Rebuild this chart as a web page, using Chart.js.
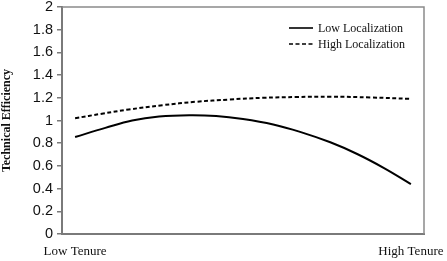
<!DOCTYPE html>
<html>
<head>
<meta charset="utf-8">
<script src="https://cdn.jsdelivr.net/npm/chart.js@4"></script>
<style>
  html, body { margin: 0; padding: 0; background: #fff; }
  #wrap { width: 447px; height: 261px; }
</style>
</head>
<body>
<div id="wrap"><canvas id="canvas"></canvas></div>
<script>
// values; x runs from low tenure (0) to high tenure (1)
var low_x  = [0, 0.09, 0.17, 0.25, 0.34, 0.42, 0.50, 0.59, 0.67, 0.76, 0.84, 0.92, 1.0];
var low_y  = [0.855, 0.935, 1.0, 1.035, 1.047, 1.04, 1.013, 0.965, 0.90, 0.808, 0.705, 0.581, 0.44];
var high_x = [0, 0.08, 0.16, 0.26, 0.36, 0.46, 0.56, 0.66, 0.76, 0.88, 1.0];
var high_y = [1.02, 1.06, 1.097, 1.135, 1.165, 1.185, 1.20, 1.207, 1.21, 1.203, 1.19];
var x_labels = ['Low Tenure', 'High Tenure'];
var series_names = ['Low Localization', 'High Localization'];

function to_points(xs, ys) {
    let pts = [];
    for (let i = 0; i < xs.length; i++) {
        pts.push({x: xs[i], y: ys[i]});
    }
    return pts;
}

// box round the plot and the legend in the top right corner
const frame_plugin = {
    id: 'frame',
    beforeDatasetsDraw(chart) {
        const a = chart.chartArea;
        const c = chart.ctx;
        c.save();
        c.strokeStyle = '#8a8a8a';
        c.lineWidth = 1.5;
        c.beginPath();
        c.moveTo(a.left, a.top);
        c.lineTo(a.right, a.top);
        c.lineTo(a.right, a.bottom);
        c.stroke();
        c.restore();
    },
    afterDraw(chart) {
        const a = chart.chartArea;
        const c = chart.ctx;
        c.save();
        c.font = '12px "Liberation Serif", "Times New Roman", serif';
        c.fillStyle = '#111';
        c.textBaseline = 'middle';
        chart.data.datasets.forEach(function (ds, i) {
            const y = a.top + 21 + i * 16;
            const x0 = a.right - 135;
            c.strokeStyle = ds.borderColor;
            c.lineWidth = 1.6;
            c.setLineDash(ds.borderDash || []);
            c.beginPath();
            c.moveTo(x0, y);
            c.lineTo(x0 + 24, y);
            c.stroke();
            c.setLineDash([]);
            c.fillText(ds.label, x0 + 29, y + 1);
        });
        c.restore();
    }
};

const ctx = document.getElementById('canvas').getContext('2d');
const chart = new Chart(ctx, {
    type: 'line',
    data: {
        datasets: [
            {label: series_names[0], data: to_points(low_x, low_y),
             borderColor: '#000', borderWidth: 2, pointRadius: 0, tension: 0.4, fill: false},
            {label: series_names[1], data: to_points(high_x, high_y),
             borderColor: '#000', borderWidth: 2, borderDash: [4, 2.5], pointRadius: 0, tension: 0.4, fill: false}
        ]
    },
    options: {
        responsive: true,
        maintainAspectRatio: false,
        animation: false,
        layout: {padding: {left: 0, top: 7, right: 23, bottom: 0}},
        plugins: {legend: {display: false}, tooltip: {enabled: false}},
        scales: {
            x: {
                type: 'linear',
                min: -0.039,
                max: 1.039,
                afterBuildTicks: function (scale) {
                    scale.ticks = [{value: 0}, {value: 1}];
                },
                afterFit: function (scale) {
                    scale.height = 27;
                    scale.paddingLeft = 0;
                    scale.paddingRight = 0;
                },
                grid: {display: false, drawTicks: false},
                border: {display: true, color: '#7a7a7a', width: 2},
                ticks: {
                    padding: 10,
                    maxRotation: 0,
                    autoSkip: false,
                    color: '#111',
                    font: {family: '"Liberation Serif", "Times New Roman", serif', size: 13},
                    callback: function (v) {
                        if (v === 0) return x_labels[0];
                        if (v === 1) return x_labels[1];
                        return '';
                    }
                }
            },
            y: {
                min: 0,
                max: 2,
                afterFit: function (scale) {
                    scale.width = 62;
                    scale.paddingTop = 0;
                    scale.paddingBottom = 0;
                },
                grid: {drawOnChartArea: false, drawTicks: true, tickLength: 5, color: '#7a7a7a', lineWidth: 1.5},
                border: {display: true, color: '#7a7a7a', width: 2},
                ticks: {
                    stepSize: 0.2,
                    padding: 4,
                    color: '#111',
                    font: {family: '"Liberation Sans", Arial, sans-serif', size: 14.5},
                    callback: function (v) { return Math.round(v * 10) / 10; }
                },
                title: {
                    display: true,
                    text: 'Technical Efficiency',
                    color: '#111',
                    padding: 0,
                    font: {family: '"Liberation Serif", "Times New Roman", serif', size: 12, weight: 'bold'}
                }
            }
        }
    },
    plugins: [frame_plugin]
});
</script>
</body>
</html>
